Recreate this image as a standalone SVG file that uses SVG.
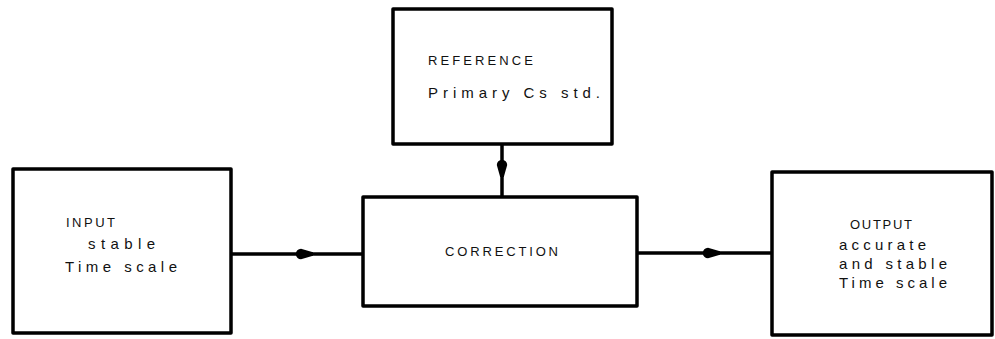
<svg xmlns="http://www.w3.org/2000/svg" width="995" height="339" viewBox="0 0 995 339">
<style>
.box{fill:#fff;stroke:#000;stroke-width:3.5;stroke-linejoin:round}
.conn{fill:none;stroke:#000;stroke-width:3.5}
text{font-family:"Liberation Sans",Arial,sans-serif;fill:#111;font-size:15px}
.cap{font-size:13px}
</style>
<defs>
<marker id="blob" markerUnits="userSpaceOnUse" markerWidth="20" markerHeight="14" viewBox="-7 -7 20 14" refX="0" refY="0" orient="auto" overflow="visible">
<path d="M-1,-5.2 A5.2,5.2 0 0 0 -1,5.2 L11,1.8 L11,-1.8 Z" fill="#000"/>
</marker>
</defs>
<rect width="995" height="339" fill="#fff"/>
<g id="connectors">
<path class="conn" d="M502,144 L502,166 L502,197" marker-mid="url(#blob)"/>
<path class="conn" d="M231,254 L302,254 L363,254" marker-mid="url(#blob)"/>
<path class="conn" d="M637,253 L709,253 L772,253" marker-mid="url(#blob)"/>
</g>
<g id="reference">
<rect class="box" x="393" y="9" width="219" height="135"/>
<text class="cap" x="428" y="65" textLength="105" lengthAdjust="spacing">REFERENCE</text>
<text x="428" y="98" textLength="172" lengthAdjust="spacing">Primary Cs std.</text>
</g>
<g id="input">
<rect class="box" x="13" y="169" width="218" height="164"/>
<text class="cap" x="66" y="227" textLength="49" lengthAdjust="spacing">INPUT</text>
<text x="88" y="249" textLength="67" lengthAdjust="spacing">stable</text>
<text x="65" y="272" textLength="112" lengthAdjust="spacing">Time scale</text>
</g>
<g id="correction">
<rect class="box" x="363" y="197" width="274" height="109"/>
<text class="cap" x="445" y="256" textLength="113" lengthAdjust="spacing">CORRECTION</text>
</g>
<g id="output">
<rect class="box" x="772" y="172" width="220" height="163"/>
<text class="cap" x="850" y="229" textLength="62" lengthAdjust="spacing">OUTPUT</text>
<text x="839" y="250" textLength="87" lengthAdjust="spacing">accurate</text>
<text x="839" y="269" textLength="108" lengthAdjust="spacing">and stable</text>
<text x="839" y="288" textLength="108" lengthAdjust="spacing">Time scale</text>
</g>
</svg>
